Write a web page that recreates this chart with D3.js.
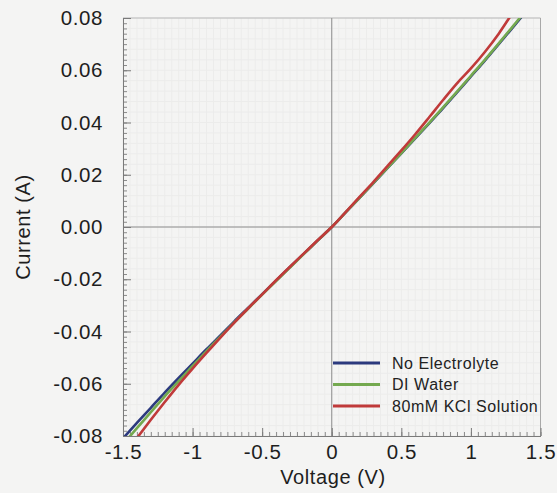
<!DOCTYPE html>
<html>
<head>
<meta charset="utf-8">
<script src="https://cdn.jsdelivr.net/npm/d3@7"></script>
<style>
  html, body { margin: 0; padding: 0; background: #f4f4f3; }
  svg { display: block; font-family: "Liberation Sans", Arial, sans-serif; }
</style>
</head>
<body>
<div id="chart"></div>
<script>
// Voltage sweep (V)
const voltage = [-1.5, -1.4, -1.3, -1.2, -1.1, -1.0, -0.9, -0.8, -0.7, -0.6, -0.5, -0.4, -0.3, -0.2, -0.1,
  0, 0.1, 0.2, 0.3, 0.4, 0.5, 0.6, 0.7, 0.8, 0.9, 1.0, 1.1, 1.2, 1.3, 1.4];

// Current (A) per condition
const noElectrolyte = [-0.0809, -0.0750, -0.0692, -0.0634, -0.0578, -0.0523, -0.0468, -0.0415, -0.0361, -0.0309,
  -0.0257, -0.0205, -0.0153, -0.0102, -0.0051, 0, 0.0056, 0.0112, 0.0168, 0.0225, 0.0282, 0.0339, 0.0397,
  0.0455, 0.0515, 0.0576, 0.0637, 0.0700, 0.0763, 0.0828];
const diWater = [-0.0832, -0.0770, -0.0709, -0.0648, -0.0590, -0.0532, -0.0475, -0.0420, -0.0365, -0.0312,
  -0.0259, -0.0207, -0.0155, -0.0103, -0.0051, 0, 0.0056, 0.0112, 0.0169, 0.0226, 0.0283, 0.0341, 0.0399,
  0.0458, 0.0518, 0.0579, 0.0640, 0.0703, 0.0767, 0.0832];
const kclSolution = [-0.0880, -0.0808, -0.0738, -0.0670, -0.0604, -0.0542, -0.0482, -0.0423, -0.0366, -0.0311,
  -0.0258, -0.0204, -0.0152, -0.0101, -0.0050, 0, 0.0057, 0.0115, 0.0173, 0.0233, 0.0293, 0.0355, 0.0420,
  0.0486, 0.0550, 0.0607, 0.0670, 0.0740, 0.0820, 0.0900];

const seriesNames = ['No Electrolyte', 'DI Water', '80mM KCl Solution'];
const seriesColors = ['#2c3a7e', '#74a94f', '#c03a3a'];

const xTicks = [-1.5, -1, -0.5, 0, 0.5, 1, 1.5];
const xTickLabels = ['-1.5', '-1', '-0.5', '0', '0.5', '1', '1.5'];
const yTicks = [-0.08, -0.06, -0.04, -0.02, 0, 0.02, 0.04, 0.06, 0.08];
const yTickLabels = ['-0.08', '-0.06', '-0.04', '-0.02', '0.00', '0.02', '0.04', '0.06', '0.08'];

const W = 557, H = 493;
const plot = { left: 123, right: 540.5, top: 18, bottom: 436 };

const x = d3.scaleLinear().domain([-1.5, 1.5]).range([plot.left, plot.right]);
const y = d3.scaleLinear().domain([-0.08, 0.08]).range([plot.bottom, plot.top]);

const svg = d3.select('#chart').append('svg').attr('width', W).attr('height', H);

// faint paper grid
const gridX = d3.range(-1.5, 1.5001, 0.05);
const gridY = d3.range(-0.08, 0.08001, 0.004);
svg.append('g').selectAll('line').data(gridX).join('line')
  .attr('x1', d => x(d)).attr('x2', d => x(d))
  .attr('y1', plot.top).attr('y2', plot.bottom)
  .attr('stroke', '#ececeb').attr('stroke-width', 1);
svg.append('g').selectAll('line').data(gridY).join('line')
  .attr('x1', plot.left).attr('x2', plot.right)
  .attr('y1', d => y(d)).attr('y2', d => y(d))
  .attr('stroke', '#ececeb').attr('stroke-width', 1);

// frame: top + right lighter
svg.append('line').attr('x1', plot.left).attr('x2', plot.right).attr('y1', plot.top).attr('y2', plot.top)
  .attr('stroke', '#b8b8b8');
svg.append('line').attr('x1', plot.right).attr('x2', plot.right).attr('y1', plot.top).attr('y2', plot.bottom)
  .attr('stroke', '#a8a8a8');

// zero lines
svg.append('line').attr('x1', x(0)).attr('x2', x(0)).attr('y1', plot.top).attr('y2', plot.bottom)
  .attr('stroke', '#8c8c8c').attr('stroke-width', 1);
svg.append('line').attr('x1', plot.left).attr('x2', plot.right).attr('y1', y(0)).attr('y2', y(0))
  .attr('stroke', '#8c8c8c').attr('stroke-width', 1);

// minor ticks
const xMinor = d3.range(-1.5, 1.5001, 0.05);
const yMinor = d3.range(-0.08, 0.08001, 0.002);

const xMinorAxis = svg.append('g').attr('transform', `translate(0,${plot.bottom})`)
  .call(d3.axisTop(x).tickValues(xMinor).tickSize(4).tickFormat(''));
const yMinorAxis = svg.append('g').attr('transform', `translate(${plot.left},0)`)
  .call(d3.axisRight(y).tickValues(yMinor).tickSize(4).tickFormat(''));
[xMinorAxis, yMinorAxis].forEach(g => {
  g.select('.domain').remove();
  g.selectAll('.tick line').attr('stroke', '#8a8a8a');
});

// major ticks + labels
const xAxis = svg.append('g').attr('transform', `translate(0,${plot.bottom})`)
  .call(d3.axisBottom(x).tickValues(xTicks).tickSizeInner(-8).tickSizeOuter(0)
    .tickPadding(13).tickFormat((d, i) => xTickLabels[i]));
const yAxis = svg.append('g').attr('transform', `translate(${plot.left},0)`)
  .call(d3.axisLeft(y).tickValues(yTicks).tickSizeInner(-8).tickSizeOuter(0)
    .tickPadding(20).tickFormat((d, i) => yTickLabels[i]));
[xAxis, yAxis].forEach(g => {
  g.select('.domain').attr('stroke', '#7a7a7a');
  g.selectAll('.tick line').attr('stroke', '#7a7a7a');
  g.selectAll('.tick text').attr('fill', '#1e1e1e').attr('font-size', 20.5)
    .attr('letter-spacing', 0.6)
    .attr('font-family', '"Liberation Sans", Arial, sans-serif');
});
xAxis.selectAll('.tick text').attr('dy', '0.5em');

// curves
svg.append('clipPath').attr('id', 'plotclip').append('rect')
  .attr('x', plot.left).attr('y', plot.top)
  .attr('width', plot.right - plot.left).attr('height', plot.bottom - plot.top);

const line = d3.line().x(d => x(d[0])).y(d => y(d[1])).curve(d3.curveMonotoneX);
const series = [noElectrolyte, diWater, kclSolution];
const curves = svg.append('g').attr('clip-path', 'url(#plotclip)');
series.forEach((vals, si) => {
  curves.append('path')
    .datum(voltage.map((v, i) => [v, vals[i]]))
    .attr('fill', 'none')
    .attr('stroke', seriesColors[si])
    .attr('stroke-width', 2.6)
    .attr('stroke-linejoin', 'round')
    .attr('d', line);
});

// legend
const legend = svg.append('g').attr('transform', 'translate(333,363)');
seriesNames.forEach((name, i) => {
  const row = legend.append('g').attr('transform', `translate(0,${i * 21.5})`);
  row.append('line').attr('x1', 0).attr('x2', 47).attr('y1', 0).attr('y2', 0)
    .attr('stroke', seriesColors[i]).attr('stroke-width', 3);
  row.append('text').attr('x', 59).attr('y', 0).attr('dy', '0.36em')
    .attr('font-size', 16).attr('letter-spacing', 0.55).attr('fill', '#222').text(name);
});

// axis titles
svg.append('text').attr('x', 333).attr('y', 484).attr('text-anchor', 'middle')
  .attr('font-size', 20).attr('letter-spacing', 0.6).attr('fill', '#1e1e1e').text('Voltage (V)');
svg.append('text').attr('transform', 'translate(30,227) rotate(-90)').attr('text-anchor', 'middle')
  .attr('font-size', 20).attr('letter-spacing', 0.6).attr('fill', '#1e1e1e').text('Current (A)');
</script>
</body>
</html>
